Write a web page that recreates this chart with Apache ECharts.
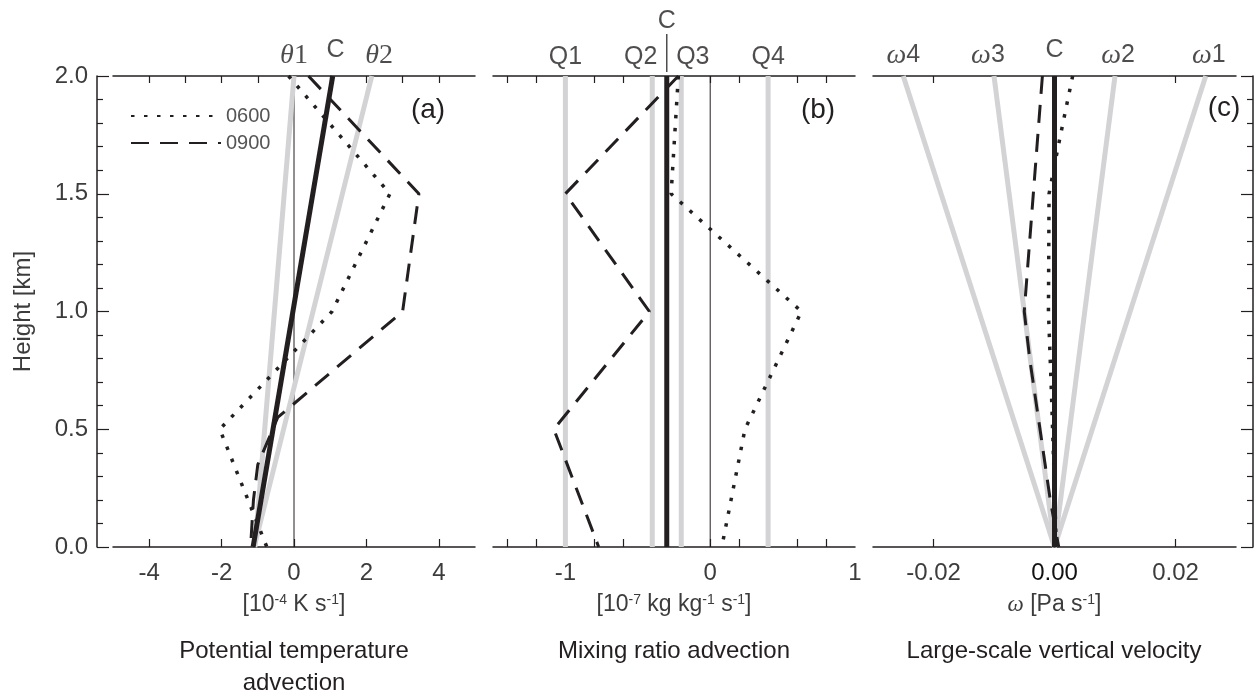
<!DOCTYPE html>
<html>
<head>
<meta charset="utf-8">
<title>Advection and vertical velocity profiles</title>
<script src="https://cdn.jsdelivr.net/npm/echarts@6/dist/echarts.min.js"></script>
<style>
  html, body { margin: 0; padding: 0; background: #fff; }
  #chart { width: 1259px; height: 697px; }
</style>
</head>
<body>
<div id="chart"></div>
<script>
// heights of the two-point forcing profiles [km]
const forcingHeights = [0.0, 2.0]

// (a) potential temperature advection [1e-4 K s-1]
const theta1 = [-1.08, 0.0]
const theta2 = [-1.1, 2.15]
const thetaC = [-1.13, 1.07]
const thetaH0600 = [2.0, 1.5, 1.0, 0.5, 0.0]
const theta0600 = [-0.15, 2.65, 1.05, -2.05, -0.75]
const thetaH0900 = [2.0, 1.5, 1.0, 0.55, 0.35, 0.2, 0.0]
const theta0900 = [0.4, 3.45, 3.0, -0.45, -1.0, -1.12, -1.2]

// (b) mixing ratio advection [1e-7 kg kg-1 s-1]
const mixQ = [-1.0, -0.4, -0.2, 0.4] // Q1..Q4
const mixC = -0.3
const mixH0600 = [2.0, 1.5, 1.0, 0.5, 0.0]
const mix0600 = [-0.22, -0.27, 0.63, 0.24, 0.08]
const mixH0900 = [2.0, 1.5, 1.0, 0.5, 0.0]
const mix0900 = [-0.22, -1.0, -0.42, -1.08, -0.77]

// (c) large-scale vertical velocity [Pa s-1], value at 2 km (0 at surface)
const omegaTop = [0.025, 0.01, -0.01, -0.025] // ω1..ω4
const omegaC = 0.0
const omegaH0600 = [2.0, 1.7, 1.5, 1.0, 0.65, 0.0]
const omega0600 = [0.003, 0.0006, -0.0009, -0.001, -0.0005, 0.0003]
const omegaH0900 = [2.0, 1.0, 0.8, 0.2, 0.1, 0.0]
const omega0900 = [-0.002, -0.005, -0.0041, -0.0007, 0.0, 0.0007]

// labels above the panels
const thetaLabels = ['θ1', 'C', 'θ2']
const thetaLabelX = [0.0, 1.15, 2.35]
const mixLabels = ['Q1', 'Q2', 'Q3', 'Q4']
const mixLabelX = [-1.0, -0.48, -0.12, 0.4]
const omegaLabels = ['ω4', 'ω3', 'C', 'ω2', 'ω1']
const omegaLabelX = [-0.025, -0.011, 0.0, 0.0105, 0.0255]

// ticks
const thetaTicks = [-4, -2, 0, 2, 4]
const thetaTopTicks = [-4, -3, -2, -1, 0, 1, 2, 3, 4]
const mixTicks = [-1.4, -1.2, -1.0, -0.8, -0.6, -0.4, -0.2, 0, 0.2, 0.4, 0.6, 0.8]
const mixTickLabels = [-1, 0, 1]
const omegaTicks = [-0.02, 0, 0.02]

const INK = '#231f20'
const GRAY = '#d3d3d5'
const LABEL = '#3c3c3c'
const FONT = 'Liberation Sans'

const pair = (xs, ys) => xs.map((x, i) => [x, ys[i]])
const vertical = (x) => pair([x, x], forcingHeights)

const styles = {
  gray: { color: GRAY, width: 5 },
  bold: { color: INK, width: 5 },
  thin: { color: INK, width: 1 },
  dot: { color: INK, width: 3.5, type: [3.5, 9.5] },
  dash: { color: INK, width: 3, type: [18, 11] },
}

const line = (grid, data, style, name, z) => ({
  type: 'line',
  name,
  xAxisIndex: grid,
  yAxisIndex: grid,
  data,
  symbol: 'none',
  silent: true,
  z,
  itemStyle: { color: style.color },
  lineStyle: style,
})

// labels above the top axis, drawn as invisible points at 2 km
const richText = (t) =>
  t[0] === 'θ' ? `{th|θ}{thn|${t.slice(1)}}`
  : t[0] === 'ω' ? `{om|ω}{n|${t.slice(1)}}`
  : `{n|${t}}`

const topLabels = (grid, xs, texts) => ({
  type: 'scatter',
  xAxisIndex: grid,
  yAxisIndex: grid,
  silent: true,
  clip: false,
  symbolSize: 1,
  itemStyle: { color: 'rgba(0,0,0,0)' },
  z: 10,
  data: xs.map((x, i) => ({
    value: [x, 2.0],
    label: { distance: texts[i] === 'C' ? 13 : 6 },
  })),
  label: {
    show: true,
    position: 'top',
    formatter: (p) => richText(texts[p.dataIndex]),
    rich: {
      th: { fontFamily: 'Liberation Serif', fontStyle: 'italic', fontSize: 28, color: INK },
      thn: { fontFamily: 'Liberation Serif', fontSize: 28, color: INK },
      om: { fontFamily: 'Liberation Serif', fontStyle: 'italic', fontSize: 28, color: INK },
      n: { fontFamily: FONT, fontSize: 25, color: INK },
    },
  },
})

const series = [
  // (a)
  line(0, vertical(0), styles.thin, undefined, 1),
  line(0, pair(theta1, forcingHeights), styles.gray, undefined, 2),
  line(0, pair(theta2, forcingHeights), styles.gray, undefined, 2),
  line(0, pair(thetaC, forcingHeights), styles.bold, undefined, 3),
  line(0, pair(theta0600, thetaH0600), styles.dot, '0600', 4),
  line(0, pair(theta0900, thetaH0900), styles.dash, '0900', 5),
  topLabels(0, thetaLabelX, thetaLabels),
  // (b)
  line(1, vertical(0), styles.thin, undefined, 1),
  ...mixQ.map((q) => line(1, vertical(q), styles.gray, undefined, 2)),
  line(1, vertical(mixC), styles.bold, undefined, 3),
  line(1, pair(mix0600, mixH0600), styles.dot, '0600', 4),
  line(1, pair(mix0900, mixH0900), styles.dash, '0900', 5),
  topLabels(1, mixLabelX, mixLabels),
  {
    // C marker with its tick line above panel (b)
    type: 'scatter',
    xAxisIndex: 1,
    yAxisIndex: 1,
    silent: true,
    clip: false,
    symbol: 'rect',
    symbolSize: [1.5, 38],
    symbolOffset: [0, -23],
    itemStyle: { color: INK },
    data: [[mixC, 2.0]],
    label: { show: true, position: 'top', distance: 0, formatter: 'C', fontFamily: FONT, fontSize: 25, color: INK },
  },
  // (c)
  ...omegaTop.map((w) => line(2, pair([0, w], forcingHeights), styles.gray, undefined, 2)),
  line(2, vertical(omegaC), styles.bold, undefined, 3),
  line(2, pair(omega0600, omegaH0600), styles.dot, '0600', 4),
  line(2, pair(omega0900, omegaH0900), styles.dash, '0900', 5),
  topLabels(2, omegaLabelX, omegaLabels),
]

const axisLine = { show: true, onZero: false, lineStyle: { color: INK, width: 1.5 } }
const sup = { fontSize: 14, verticalAlign: 'top', color: LABEL, fontFamily: FONT }

const bottomAxis = (grid, min, max, ticks, labels, name, fmt) => ({
  type: 'value',
  gridIndex: grid,
  position: 'bottom',
  min,
  max,
  splitLine: { show: false },
  axisLine,
  axisTick: { show: true, inside: true, length: 8, customValues: ticks, lineStyle: { color: INK, width: 1.2 } },
  axisLabel: {
    customValues: labels,
    margin: 14,
    fontFamily: FONT,
    fontSize: 24,
    color: (v) => (grid === 2 && Number(v) === 0 ? '#111' : LABEL),
    formatter: fmt,
  },
  name,
  nameLocation: 'middle',
  nameGap: 46,
  nameTextStyle: {
    fontFamily: FONT,
    fontSize: 23,
    color: LABEL,
    rich: {
      sup,
      w: { fontFamily: 'Liberation Serif', fontStyle: 'italic', fontSize: 23, color: LABEL },
    },
  },
})

const topAxis = (grid, min, max, ticks) => ({
  type: 'value',
  gridIndex: grid,
  position: 'top',
  min,
  max,
  splitLine: { show: false },
  axisLine,
  axisTick: { show: true, inside: true, length: 7, customValues: ticks, lineStyle: { color: INK, width: 1.2 } },
  axisLabel: { show: false },
})

const heightAxis = (grid, position, showLabels, offset) => ({
  type: 'value',
  gridIndex: grid,
  position,
  offset,
  min: 0,
  max: 2,
  interval: 0.5,
  show: grid !== 1,
  splitLine: { show: false },
  axisLine: { show: true, onZero: false, lineStyle: { color: INK, width: 1.5 } },
  axisTick: { show: true, inside: true, length: 12, lineStyle: { color: INK, width: 1.2 } },
  minorTick: { show: true, splitNumber: 5, length: 6, lineStyle: { color: INK, width: 1.2 } },
  axisLabel: {
    show: showLabels,
    margin: 9,
    fontFamily: FONT,
    fontSize: 24,
    color: LABEL,
    formatter: (v) => v.toFixed(1),
  },
  name: showLabels ? 'Height [km]' : '',
  nameLocation: 'middle',
  nameGap: 62,
  nameTextStyle: { fontFamily: FONT, fontSize: 24, color: LABEL },
})

const titleText = (text, left, top, size) => ({
  text,
  left,
  top,
  padding: 0,
  textAlign: 'center',
  textStyle: { fontFamily: FONT, fontSize: size, fontWeight: 'normal', color: INK, lineHeight: size + 8 },
})

const chart = echarts.init(document.getElementById('chart'))

chart.setOption({
  animation: false,
  backgroundColor: '#fff',
  grid: [
    { left: 113, top: 76, width: 362, height: 471 },
    { left: 493, top: 76, width: 362, height: 471 },
    { left: 873, top: 76, width: 363, height: 471 },
  ],
  xAxis: [
    bottomAxis(0, -5, 5, thetaTicks, thetaTicks, '[10{sup|-4} K s{sup|-1}]', (v) => String(v)),
    bottomAxis(1, -1.5, 1, mixTicks, mixTickLabels, '[10{sup|-7} kg kg{sup|-1} s{sup|-1}]', (v) => String(v)),
    bottomAxis(2, -0.03, 0.03, omegaTicks, omegaTicks, '{w|ω} [Pa s{sup|-1}]', (v) => Number(v).toFixed(2)),
    topAxis(0, -5, 5, thetaTopTicks),
    topAxis(1, -1.5, 1, mixTicks),
    topAxis(2, -0.03, 0.03, omegaTicks),
  ],
  yAxis: [
    heightAxis(0, 'left', true, 16),
    heightAxis(1, 'left', false, 0),
    heightAxis(2, 'right', false, 17),
  ],
  legend: {
    data: ['0600', '0900'],
    left: 125,
    top: 101,
    orient: 'vertical',
    itemWidth: 90,
    itemHeight: 12,
    itemGap: 7,
    selectedMode: false,
    itemStyle: { opacity: 0 },
    textStyle: { fontFamily: FONT, fontSize: 20, color: '#555' },
  },
  title: [
    titleText('Potential temperature\nadvection', 294, 635, 24),
    titleText('Mixing ratio advection', 674, 635, 24),
    titleText('Large-scale vertical velocity', 1054, 635, 24),
    titleText('(a)', 428, 92, 28),
    titleText('(b)', 818, 92, 28),
    titleText('(c)', 1224, 90, 28),
  ],
  series,
})
</script>
</body>
</html>
